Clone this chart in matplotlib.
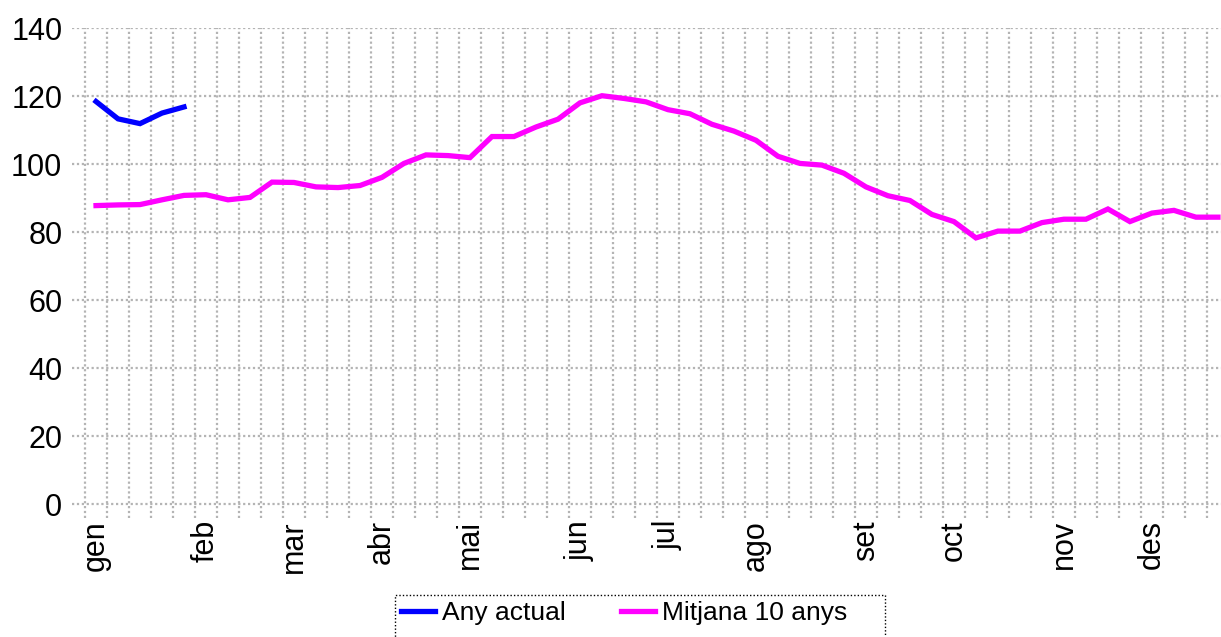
import matplotlib.pyplot as plt
from matplotlib.patches import Rectangle

plt.rcParams["font.family"] = ["Liberation Sans", "DejaVu Sans"]

# setmanes de l'any (52) i valors llegits del grafic
setmanes = list(range(52))
any_actual = [118.4, 113.3, 111.9, 115.0, 116.8]
mitjana_10_anys = [87.8, 88.0, 88.1, 89.5, 90.8, 91.0, 89.5, 90.2, 94.7, 94.6,
                   93.3, 93.1, 93.7, 96.1, 100.2, 102.7, 102.5, 101.9, 108.1, 108.1,
                   110.9, 113.2, 118.0, 120.1, 119.3, 118.3, 116.0, 114.8, 111.7, 109.7,
                   107.0, 102.3, 100.2, 99.7, 97.3, 93.3, 90.7, 89.3, 85.2, 83.1,
                   78.3, 80.3, 80.3, 82.8, 83.8, 83.8, 86.8, 83.1, 85.6, 86.4,
                   84.4, 84.4]
mesos = ["gen", "feb", "mar", "abr", "mai", "jun",
         "jul", "ago", "set", "oct", "nov", "des"]
setmana_inici_mes = [0, 5, 9, 13, 17, 22, 26, 30, 35, 39, 44, 48]
valors_y = [0, 20, 40, 60, 80, 100, 120, 140]

fig = plt.figure(figsize=(12.21, 6.37), dpi=100)
ax = fig.add_axes([0.059, 0.187, 0.941, 0.769])

ax.plot(setmanes[:len(any_actual)], any_actual, color="#0000ff", lw=3.8,
        solid_joinstyle="miter", label="Any actual", zorder=3)
ax.plot(setmanes, mitjana_10_anys, color="#ff00ff", lw=3.8,
        solid_joinstyle="miter", label="Mitjana 10 anys", zorder=3)

ax.set_xlim(-1.09, 51.14)
ax.set_ylim(-4, 140)
ax.set_yticks(valors_y)
ax.set_yticklabels([str(v) for v in valors_y], fontsize=22)
ax.set_xticks(setmana_inici_mes)
ax.set_xticklabels(mesos, rotation=90, fontsize=22)
ax.set_xticks([s - 0.5 for s in setmanes], minor=True)
ax.tick_params(axis="both", which="both", length=0)
ax.tick_params(axis="y", pad=7)
ax.tick_params(axis="x", pad=1.5)

ax.grid(axis="y", which="major", color="#b4b4b4", linestyle=(0, (1, 1.2)), lw=1.6)
ax.grid(axis="x", which="minor", color="#b4b4b4", linestyle=(0, (1, 1.2)), lw=1.6)
ax.set_axisbelow(True)
for spine in ax.spines.values():
    spine.set_visible(False)

# llegenda sense marc; el marc puntejat (mes ample a la dreta) es dibuixa a part
fig.legend(loc="center left", bbox_to_anchor=(0.3284, 0.0377), ncol=2,
           fontsize=19, frameon=False, handlelength=1.3, handletextpad=0.27,
           columnspacing=2.08, borderpad=0, borderaxespad=0)
marc = Rectangle((395 / 1221, -0.01), (885 - 395) / 1221, 0.0759,
                 transform=fig.transFigure, fill=False, edgecolor="black",
                 linestyle=(0, (1, 1.5)), linewidth=1.0)
fig.patches.append(marc)

fig.savefig("out.png", dpi=100)
